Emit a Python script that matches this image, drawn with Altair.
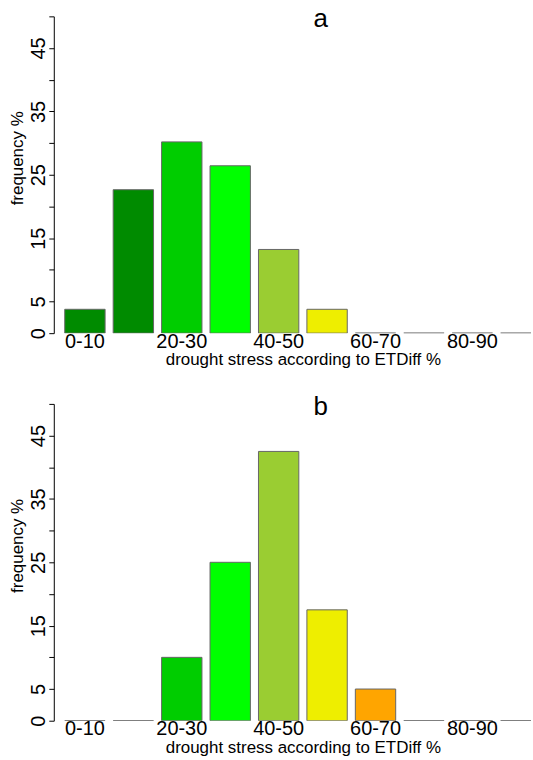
import altair as alt
import pandas as pd

# ---- data ----
categories = ["0-10", "10-20", "20-30", "30-40", "40-50",
              "50-60", "60-70", "70-80", "80-90", "90-100"]
bar_colors = ["#008B00", "#008B00", "#00CD00", "#00FF00", "#9ACD32",
              "#EEEE00", "#FFA500", "#FF4500", "#FF0000", "#8B0000"]
freq_a = [3.77, 22.64, 30.19, 26.42, 13.21, 3.77, 0, 0, 0, 0]
freq_b = [0, 0, 10.0, 25.0, 42.5, 17.5, 5.0, 0, 0, 0]
x_tick_labels = ["0-10", "20-30", "40-50", "60-70", "80-90"]
y_ticks = [0, 5, 10, 15, 20, 25, 30, 35, 40, 45, 50]
y_tick_labels = [0, 5, 15, 25, 35, 45]
panel_labels = ["a", "b"]
x_title = "drought stress according to ETDiff %"
y_title = "frequency %"

FONT = "Liberation Sans"
label_expr = "indexof([" + ",".join(str(v) for v in y_tick_labels) + \
    "], datum.value) >= 0 ? datum.label : ''"


def panel(freqs, label):
    df = pd.DataFrame({"cat": categories, "freq": freqs})
    bars = alt.Chart(df).mark_bar(
        stroke="#666666", strokeWidth=1, clip=True, opacity=1
    ).encode(
        x=alt.X(
            "cat:N", sort=categories,
            scale=alt.Scale(domain=categories, range=[0, 500],
                            paddingInner=0.1667, paddingOuter=0.226),
            axis=alt.Axis(values=x_tick_labels, labelAngle=0, domain=False,
                          ticks=False, tickSize=0, grid=False,
                          labelFontSize=20, labelFont=FONT, labelColor="black",
                          labelBaseline="alphabetic", labelPadding=14,
                          title=x_title, titleFont=FONT, titleFontSize=17,
                          titleFontWeight="normal", titleColor="black",
                          titleBaseline="alphabetic", titleY=31.5),
        ),
        y=alt.Y(
            "freq:Q",
            scale=alt.Scale(domain=[0, 50], nice=False, zero=True),
            axis=alt.Axis(values=y_ticks, labelExpr=label_expr, grid=False,
                          domainColor="black", tickColor="black", tickSize=5,
                          labelAngle=270, labelAlign="center",
                          labelBaseline="alphabetic", labelPadding=4,
                          labelFontSize=20, labelFont=FONT, labelColor="black",
                          title=y_title, titleFont=FONT, titleFontSize=17,
                          titleFontWeight="normal", titleColor="black",
                          titleAngle=270, titleAlign="center",
                          titleBaseline="alphabetic", titleX=-31, titleY=142),
        ),
        color=alt.Color("cat:N", scale=alt.Scale(domain=categories, range=bar_colors),
                        legend=None),
    )
    txt = alt.Chart(alt.Data(values=[{"t": label}])).mark_text(
        fontSize=26, font=FONT, align="center", baseline="alphabetic", color="black"
    ).encode(x=alt.value(268), y=alt.value(11), text="t:N")
    return alt.layer(bars, txt).properties(width=479, height=318)


chart = alt.vconcat(
    panel(freq_a, panel_labels[0]),
    panel(freq_b, panel_labels[1]),
    spacing=26,
).properties(
    padding={"left": 9, "top": 5, "right": -19, "bottom": 0},
    background="white",
).configure_view(stroke=None)

chart.save("out.html", embed_options={"renderer": "svg", "actions": False})
